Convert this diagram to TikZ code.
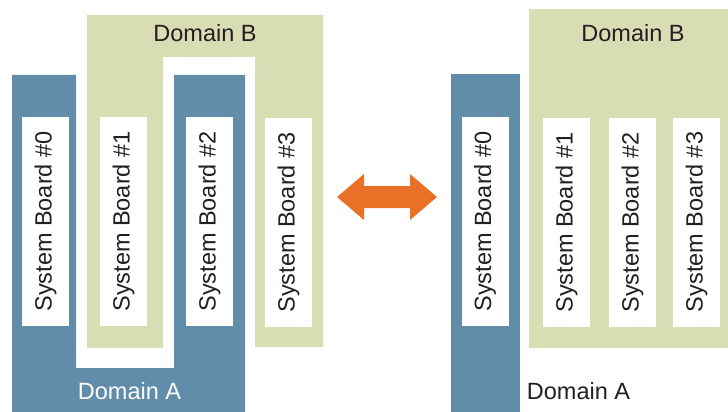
\documentclass[tikz,border=0pt]{standalone}
\usepackage{fontspec}
\setmainfont{Liberation Sans}
\definecolor{domA}{HTML}{628DAA}
\definecolor{domB}{HTML}{D8DDB4}
\definecolor{swaporange}{HTML}{E97027}
\definecolor{ink}{HTML}{231F20}
\begin{document}
\begin{tikzpicture}[x=1pt,y=-1pt,
  every node/.style={font=\fontsize{23.5}{28}\selectfont, text=ink, inner sep=0pt},
  board/.style={fill=white, rotate=90, minimum width=209pt, minimum height=47pt, inner sep=0pt},
  dlabel/.style={anchor=center}]
\useasboundingbox (0,0) rectangle (728,412);

% ---- left: interleaved domains ----
% Domain B (inverted U)
\fill[domB] (87,15) -- (323,15) -- (323,347) -- (255,347) -- (255,57)
  -- (163,57) -- (163,348) -- (87,348) -- cycle;
% Domain A (U)
\fill[domA] (12,75) -- (76,75) -- (76,368) -- (174,368) -- (174,75)
  -- (245,75) -- (245,412) -- (12,412) -- cycle;

\node[dlabel] (lB) at (205,33.5) {Domain B};
\node[dlabel, text=white] (lA) at (129.5,391.5) {Domain A};

\node[board] (l0) at (45.5,221.5) {System Board \#0};
\node[board] (l1) at (123.5,221.5) {System Board \#1};
\node[board] (l2) at (209.5,221.5) {System Board \#2};
\node[board] (l3) at (288.5,222.5) {System Board \#3};

% ---- swap arrow ----
\fill[fill=swaporange] (337,197) -- (364,174) -- (364,186) -- (410,186) -- (410,174)
  -- (437,197) -- (410,220) -- (410,208) -- (364,208) -- (364,220) -- cycle;

% ---- right: regrouped domains ----
\fill[domB] (529,9) rectangle (728,348);
\fill[domA] (451,74) rectangle (520,412);

\node[dlabel] (rB) at (633,33.5) {Domain B};
\node[dlabel] (rA) at (578.5,391.5) {Domain A};

\node[board] (r0) at (485,221.5) {System Board \#0};
\node[board] (r1) at (566.5,222.5) {System Board \#1};
\node[board] (r2) at (632.5,222.5) {System Board \#2};
\node[board] (r3) at (696.5,222) {System Board \#3};
\end{tikzpicture}
\end{document}
